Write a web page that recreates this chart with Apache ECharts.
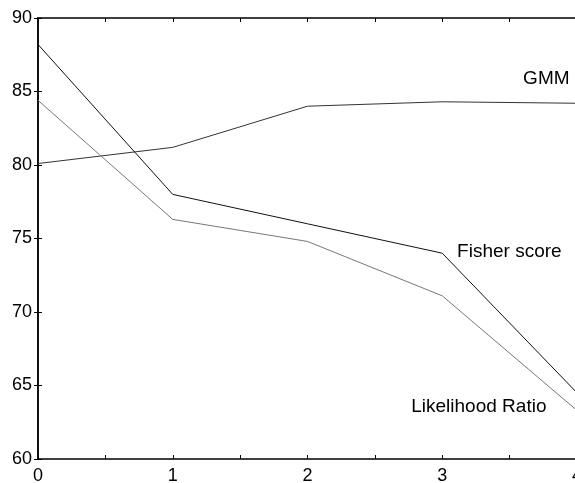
<!DOCTYPE html>
<html>
<head>
<meta charset="utf-8">
<script src="https://cdn.jsdelivr.net/npm/echarts@6/dist/echarts.min.js"></script>
<style>
html,body{margin:0;padding:0;background:#fff;}
#c{width:575px;height:483px;}
</style>
</head>
<body>
<div id="c"></div>
<script>
var xValues = [0, 1, 2, 3, 4];
var fisherScore = [88.2, 78.0, 76.0, 74.0, 64.5];
var likelihoodRatio = [84.4, 76.3, 74.8, 71.1, 63.3];
var gmm = [80.1, 81.2, 84.0, 84.3, 84.2];
var yTicks = [60, 65, 70, 75, 80, 85, 90];
var labelNames = ['GMM', 'Fisher score', 'Likelihood Ratio'];
var labelCoords = [[3.60, 85.9], [3.11, 74.1], [2.77, 63.55]];

function pairs(xs, ys) { return xs.map(function (x, i) { return [x, ys[i]]; }); }

var FONT = '"Liberation Sans", Arial, Helvetica, sans-serif';
var chart = echarts.init(document.getElementById('c'), null, {renderer: 'canvas'});

function lbl(i) {
  return {
    coord: labelCoords[i],
    symbol: 'circle', symbolSize: 0,
    label: {show: true, formatter: labelNames[i], position: 'right', distance: 0,
      color: '#000', fontSize: 19, fontFamily: FONT, align: 'left', verticalAlign: 'middle'}
  };
}

var axisLine = {show: true, lineStyle: {color: '#000', width: 1.5}};
var axisTick = {show: true, inside: true, length: 4, lineStyle: {color: '#000', width: 1}};

chart.setOption({
  animation: false,
  backgroundColor: '#fff',
  grid: {left: 38, top: 18, right: -2, bottom: 24, containLabel: false, outerBoundsMode: 'none'},
  xAxis: [{
    type: 'value', min: 0, max: 4, interval: 0.5, position: 'bottom',
    axisLine: axisLine, axisTick: axisTick, splitLine: {show: false},
    axisLabel: {color: '#000', fontSize: 18, fontFamily: FONT, margin: 8,
      formatter: function (v) { return (Math.abs(v - Math.round(v)) < 1e-9) ? String(Math.round(v)) : ''; }}
  }, {
    type: 'value', min: 0, max: 4, interval: 0.5, position: 'top',
    axisLine: axisLine, axisTick: axisTick, splitLine: {show: false}, axisLabel: {show: false}
  }],
  yAxis: [{
    type: 'value', min: yTicks[0], max: yTicks[yTicks.length - 1], interval: 5, position: 'left',
    axisLine: axisLine, axisTick: axisTick, splitLine: {show: false},
    axisLabel: {color: '#000', fontSize: 18, fontFamily: FONT, margin: 6}
  }, {
    type: 'value', min: yTicks[0], max: yTicks[yTicks.length - 1], interval: 5, position: 'right',
    axisLine: axisLine, axisTick: axisTick, splitLine: {show: false}, axisLabel: {show: false}
  }],
  series: [{
    name: 'GMM', type: 'line', data: pairs(xValues, gmm), showSymbol: false, symbol: 'none',
    lineStyle: {color: '#333', width: 1},
    markPoint: {data: [lbl(0)], animation: false}
  }, {
    name: 'Fisher score', type: 'line', data: pairs(xValues, fisherScore), showSymbol: false, symbol: 'none',
    lineStyle: {color: '#111', width: 1},
    markPoint: {data: [lbl(1)], animation: false}
  }, {
    name: 'Likelihood Ratio', type: 'line', data: pairs(xValues, likelihoodRatio), showSymbol: false, symbol: 'none',
    lineStyle: {color: '#777', width: 1},
    markPoint: {data: [lbl(2)], animation: false}
  }]
});
</script>
</body>
</html>
